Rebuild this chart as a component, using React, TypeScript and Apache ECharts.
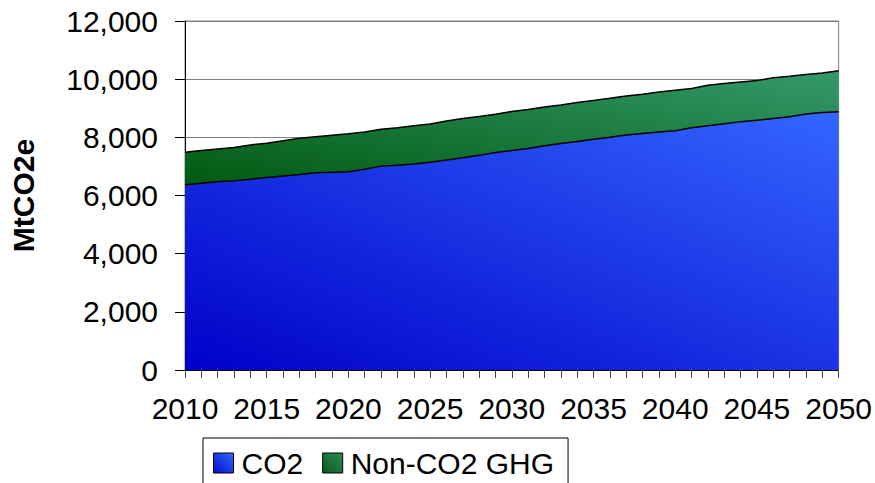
import React, { useEffect, useRef } from "react";
import * as echarts from "echarts";

const years: string[] = [];
for (let y = 2010; y <= 2050; y++) years.push(String(y));

const co2 = [
  6370, 6420, 6470, 6510, 6560, 6620, 6670, 6720, 6780, 6800,
  6820, 6900, 7010, 7040, 7080, 7140, 7220, 7300, 7380, 7480,
  7550, 7620, 7710, 7790, 7860, 7930, 8000, 8080, 8130, 8180,
  8230, 8330, 8400, 8470, 8540, 8590, 8650, 8710, 8800, 8850,
  8880,
];

const nonCo2 = [
  1120, 1130, 1130, 1140, 1180, 1180, 1210, 1250, 1240, 1270,
  1300, 1280, 1270, 1290, 1320, 1320, 1340, 1350, 1340, 1310,
  1340, 1340, 1330, 1320, 1340, 1340, 1340, 1340, 1350, 1380,
  1390, 1350, 1390, 1380, 1360, 1360, 1400, 1390, 1360, 1360,
  1410,
];

const yTicks = { min: 0, max: 12000, interval: 2000 };
const seriesNames = ["CO2", "Non-CO2 GHG"];

const FONT = "'Liberation Sans', Arial, sans-serif";
const FS = 30;

export default function App() {
  const ref = useRef<HTMLDivElement>(null);

  useEffect(() => {
    if (!ref.current) return;
    const chart = echarts.init(ref.current, undefined, { renderer: "svg" });

    const blueGrad = new echarts.graphic.LinearGradient(0, 1, 1, 0, [
      { offset: 0, color: "#0000C8" },
      { offset: 1, color: "#3466FF" },
    ]);
    const greenGrad = new echarts.graphic.LinearGradient(0, 1, 1, 0, [
      { offset: 0, color: "#005A10" },
      { offset: 1, color: "#35996A" },
    ]);
    const blueLegend = new echarts.graphic.LinearGradient(0, 1, 1, 0, [
      { offset: 0, color: "#0010CC" },
      { offset: 1, color: "#3366FF" },
    ]);
    const greenLegend = new echarts.graphic.LinearGradient(0, 1, 1, 0, [
      { offset: 0, color: "#0B5A1E" },
      { offset: 1, color: "#2E8A55" },
    ]);

    chart.setOption({
      animation: false,
      backgroundColor: "#ffffff",
      textStyle: { fontFamily: FONT, color: "#000" },
      grid: {
        left: 185,
        right: 35.5,
        top: 21,
        bottom: 113,
        show: true,
        borderColor: "#808080",
        borderWidth: 1,
        backgroundColor: "transparent",
      },
      legend: {
        left: 203,
        top: 438,
        orient: "horizontal",
        icon: "rect",
        itemWidth: 20,
        itemHeight: 20,
        itemGap: 19,
        padding: [10, 14, 20, 10],
        borderColor: "#000",
        borderWidth: 1,
        textStyle: { fontFamily: FONT, fontSize: FS, color: "#000", padding: [0, 0, 0, 3] },
        data: [
          { name: seriesNames[0], itemStyle: { color: blueLegend, borderColor: "#000", borderWidth: 1 } },
          { name: seriesNames[1], itemStyle: { color: greenLegend, borderColor: "#000", borderWidth: 1 } },
        ],
      },
      xAxis: {
        type: "category",
        data: years,
        boundaryGap: false,
        axisLine: { show: true, lineStyle: { color: "#000", width: 1 } },
        axisTick: { show: true, interval: 0, length: 8, lineStyle: { color: "#444" } },
        axisLabel: {
          interval: 4,
          fontFamily: FONT,
          fontSize: FS,
          color: "#000",
          margin: 23,
        },
        splitLine: { show: false },
      },
      yAxis: {
        type: "value",
        min: yTicks.min,
        max: yTicks.max,
        interval: yTicks.interval,
        name: "MtCO2e",
        nameLocation: "middle",
        nameGap: 147,
        nameRotate: 90,
        nameTextStyle: { fontFamily: FONT, fontSize: FS, fontWeight: "bold", color: "#000" },
        axisLine: { show: true, lineStyle: { color: "#000", width: 1 } },
        axisTick: { show: true, length: 10, lineStyle: { color: "#000" } },
        axisLabel: {
          fontFamily: FONT,
          fontSize: FS,
          color: "#000",
          margin: 27,
          formatter: (v: number) => v.toLocaleString("en-US"),
        },
        splitLine: { show: true, lineStyle: { color: "#808080", width: 1 } },
      },
      series: [
        {
          name: seriesNames[0],
          type: "line",
          stack: "total",
          data: co2,
          showSymbol: false,
          symbol: "none",
          color: blueLegend,
          lineStyle: { color: "#000", width: 1.5 },
          areaStyle: { color: blueGrad, opacity: 1 },
          z: 3,
        },
        {
          name: seriesNames[1],
          type: "line",
          stack: "total",
          data: nonCo2,
          showSymbol: false,
          symbol: "none",
          color: greenLegend,
          lineStyle: { color: "#000", width: 1.5 },
          areaStyle: { color: greenGrad, opacity: 1 },
          z: 2,
        },
      ],
    });

    return () => chart.dispose();
  }, []);

  return <div ref={ref} style={{ width: 875, height: 483, position: "absolute", left: 0, top: 0 }} />;
}
